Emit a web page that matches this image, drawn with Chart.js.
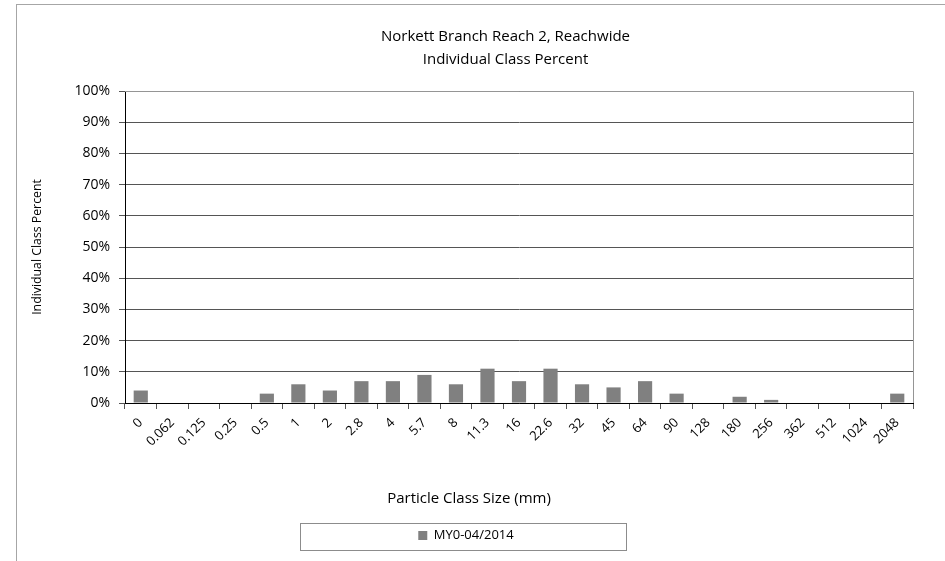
<!DOCTYPE html>
<html>
<head>
<meta charset="utf-8">
<script src="https://cdn.jsdelivr.net/npm/chart.js@4"></script>
<style>
  html, body { margin: 0; padding: 0; background: #fff; }
  #wrap { width: 945px; height: 561px; position: relative; }
</style>
</head>
<body>
<div id="wrap"><canvas id="c" width="945" height="561"></canvas></div>
<script>
const titleLines = ["Norkett Branch Reach 2, Reachwide", "Individual Class Percent"];
const categories = ["0", "0.062", "0.125", "0.25", "0.5", "1", "2", "2.8", "4", "5.7", "8", "11.3", "16", "22.6", "32", "45", "64", "90", "128", "180", "256", "362", "512", "1024", "2048"];
const seriesName = "MY0-04/2014";
const seriesValues = [4, 0, 0, 0, 3, 6, 4, 7, 7, 9, 6, 11, 7, 11, 6, 5, 7, 3, 0, 2, 1, 0, 0, 0, 3];
const yTicks = [0, 10, 20, 30, 40, 50, 60, 70, 80, 90, 100];
const xTitle = "Particle Class Size (mm)";
const yTitle = "Individual Class Percent";

const FONT = "'Open Sans', 'Liberation Sans', sans-serif";

const framePlugin = {
  id: 'frame',
  afterLayout(chart) {
    const t = chart.titleBlock;
    if (t) { const d = 505.5 - (t.left + t.right) / 2; t.left += d; t.right += d; }
    const lg = chart.legend;
    if (lg) { const d = 466 - (lg.left + lg.right) / 2; lg.left += d; lg.right += d; }
  },
  beforeDraw(chart) {
    const ctx = chart.ctx;
    ctx.save();
    ctx.strokeStyle = '#a6a6a6';
    ctx.lineWidth = 1;
    ctx.strokeRect(16.5, 4.5, 940, 570);
    ctx.restore();
  },
  beforeDatasetsDraw(chart) {
    const a = chart.chartArea, ctx = chart.ctx;
    ctx.save();
    ctx.strokeStyle = '#959595';
    ctx.lineWidth = 1;
    ctx.beginPath();
    ctx.moveTo(a.left, Math.round(a.top) + 0.5);
    ctx.lineTo(Math.round(a.right) + 0.5, Math.round(a.top) + 0.5);
    ctx.lineTo(Math.round(a.right) + 0.5, a.bottom);
    ctx.stroke();
    ctx.restore();
  },
  afterDraw(chart) {
    const ctx = chart.ctx;
    ctx.save();
    ctx.fillStyle = '#000';
    ctx.font = "15px " + FONT;
    ctx.textAlign = 'center';
    ctx.textBaseline = 'middle';
    ctx.fillText(xTitle, 469, 499);
    const lg = chart.legend;
    if (lg) {
      const cy = (lg.top + lg.bottom) / 2;
      ctx.strokeStyle = '#8c8c8c';
      ctx.lineWidth = 1;
      ctx.strokeRect(300.5, Math.round(cy - 13.5) + 0.5, 326, 27);
    }
    ctx.restore();
  }
};

new Chart(document.getElementById('c'), {
  type: 'bar',
  data: {
    labels: categories,
    datasets: [{
      label: seriesName,
      data: seriesValues,
      backgroundColor: '#808080',
      borderWidth: 0,
      barPercentage: 0.45,
      categoryPercentage: 1.0
    }]
  },
  options: {
    responsive: false,
    animation: false,
    devicePixelRatio: 1,
    layout: { padding: { left: 30, right: 32, top: 5, bottom: 9 } },
    plugins: {
      title: {
        display: true,
        text: titleLines,
        color: '#000',
        font: { family: FONT, size: 15, weight: 'normal', lineHeight: 23 / 15 },
        padding: { top: 20, bottom: 20 }
      },
      legend: {
        display: true,
        position: 'bottom',
        labels: {
          color: '#000',
          font: { family: FONT, size: 13 },
          boxWidth: 9,
          boxHeight: 9,
          padding: 8
        }
      },
      tooltip: { enabled: false }
    },
    scales: {
      x: {
        grid: { display: true, drawOnChartArea: false, drawTicks: true, tickLength: 6, offset: true, color: '#555' },
        border: { display: true, color: '#000', width: 1 },
        ticks: { color: '#000', font: { family: FONT, size: 13 }, minRotation: 45, maxRotation: 45, autoSkip: false, padding: 6 },
        title: { display: false, text: xTitle },
        afterFit(scale) { scale.height = 118; }
      },
      y: {
        min: 0, max: 100,
        afterBuildTicks(scale) { scale.ticks = yTicks.map(v => ({ value: v })); },
        grid: { color: '#555', drawTicks: true, tickLength: 6 },
        border: { display: true, color: '#000', width: 1 },
        ticks: { color: '#000', font: { family: FONT, size: 14 }, padding: 9, callback: v => v + '%' },
        title: { display: true, text: yTitle, color: '#000', font: { family: FONT, size: 12.3 }, padding: 0 },
        afterFit(scale) { scale.width = 95; }
      }
    }
  },
  plugins: [framePlugin]
});
</script>
</body>
</html>
